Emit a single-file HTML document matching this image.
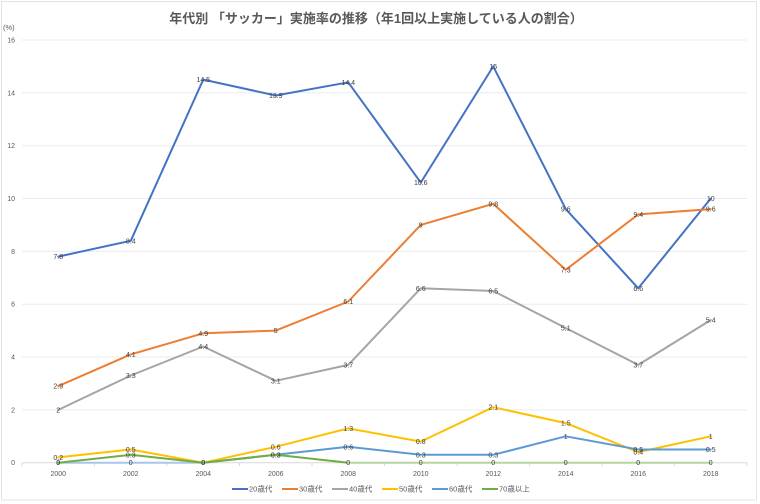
<!DOCTYPE html>
<html><head><meta charset="utf-8">
<style>
html,body{margin:0;padding:0;background:#fff;}
svg{display:block;font-family:"Liberation Sans","Noto Sans CJK JP",sans-serif;}
</style></head>
<body>
<svg width="760" height="504" viewBox="0 0 760 504" xmlns="http://www.w3.org/2000/svg">
<rect x="0" y="0" width="760" height="504" fill="#fff"/>
<rect x="1.5" y="1.5" width="755" height="498.5" fill="#fff" stroke="#E3E3E3" stroke-width="1"/>
<text x="376" y="23" text-anchor="middle" font-size="13" font-weight="bold" fill="#595959">年代別 「サッカー」実施率の推移（年1回以上実施している人の割合）</text>
<text x="3" y="30" font-size="7.5" fill="#595959">(%)</text>
<!-- gridlines -->
<g stroke="#EBEBF0" stroke-width="1">
<line x1="22" x2="747" y1="40" y2="40"/>
<line x1="22" x2="747" y1="92.8" y2="92.8"/>
<line x1="22" x2="747" y1="145.7" y2="145.7"/>
<line x1="22" x2="747" y1="198.5" y2="198.5"/>
<line x1="22" x2="747" y1="251.4" y2="251.4"/>
<line x1="22" x2="747" y1="304.2" y2="304.2"/>
<line x1="22" x2="747" y1="357" y2="357"/>
<line x1="22" x2="747" y1="409.9" y2="409.9"/>
</g>
<g stroke="#D9D9D9" stroke-width="1">
<line x1="22" x2="747" y1="462.7" y2="462.7"/>
<line x1="22" x2="22" y1="462.7" y2="466"/>
<line x1="94.5" x2="94.5" y1="462.7" y2="466"/>
<line x1="167" x2="167" y1="462.7" y2="466"/>
<line x1="239.5" x2="239.5" y1="462.7" y2="466"/>
<line x1="312" x2="312" y1="462.7" y2="466"/>
<line x1="384.5" x2="384.5" y1="462.7" y2="466"/>
<line x1="457" x2="457" y1="462.7" y2="466"/>
<line x1="529.5" x2="529.5" y1="462.7" y2="466"/>
<line x1="602" x2="602" y1="462.7" y2="466"/>
<line x1="674.5" x2="674.5" y1="462.7" y2="466"/>
<line x1="747" x2="747" y1="462.7" y2="466"/>
</g>
<!-- y labels -->
<g font-size="7" fill="#595959" text-anchor="end">
<text x="15" y="42.5">16</text>
<text x="15" y="95.3">14</text>
<text x="15" y="148.2">12</text>
<text x="15" y="201">10</text>
<text x="15" y="253.9">8</text>
<text x="15" y="306.7">6</text>
<text x="15" y="359.5">4</text>
<text x="15" y="412.4">2</text>
<text x="15" y="465.2">0</text>
</g>
<!-- x labels -->
<g font-size="7" fill="#595959" text-anchor="middle">
<text x="58.25" y="476">2000</text>
<text x="130.75" y="476">2002</text>
<text x="203.25" y="476">2004</text>
<text x="275.75" y="476">2006</text>
<text x="348.25" y="476">2008</text>
<text x="420.75" y="476">2010</text>
<text x="493.25" y="476">2012</text>
<text x="565.75" y="476">2014</text>
<text x="638.25" y="476">2016</text>
<text x="710.75" y="476">2018</text>
</g>
<!-- series -->
<g fill="none" stroke-width="2" stroke-linejoin="round" stroke-linecap="round">
<polyline stroke="#4472C4" points="58.25,256.6 130.75,240.8 203.25,79.6 275.75,95.5 348.25,82.3 420.75,182.6 493.25,66.4 565.75,209.1 638.25,288.3 710.75,198.5"/>
<polyline stroke="#ED7D31" points="58.25,386.1 130.75,354.4 203.25,333.3 275.75,330.6 348.25,301.5 420.75,224.9 493.25,203.8 565.75,269.8 638.25,214.4 710.75,209.1"/>
<polyline stroke="#A5A5A5" points="58.25,409.9 130.75,375.5 203.25,346.5 275.75,380.8 348.25,364.9 420.75,288.3 493.25,291 565.75,328 638.25,364.9 710.75,320"/>
<polyline stroke="#FFC000" points="58.25,457.4 130.75,449.5 203.25,462.7 275.75,446.8 348.25,428.4 420.75,441.6 493.25,407.2 565.75,423.1 638.25,452.1 710.75,436.3"/>
<polyline stroke="#A9C6EA" points="58.25,462.7 130.75,462.7 203.25,462.7"/>
<polyline stroke="#5B9BD5" points="203.25,462.7 275.75,454.8 348.25,446.8 420.75,454.8 493.25,454.8 565.75,436.3 638.25,449.5 710.75,449.5"/>
<polyline stroke="#70AD47" points="58.25,462.7 130.75,454.8 203.25,462.7 275.75,454.8 348.25,462.7"/>
<polyline stroke="#B5D6A0" points="348.25,462.7 420.75,462.7 493.25,462.7 565.75,462.7 638.25,462.7 710.75,462.7"/>
</g>
<!-- data labels -->
<g font-size="7" fill="#404040" text-anchor="middle">
<text x="58.25" y="259.1">7.8</text>
<text x="130.75" y="243.3">8.4</text>
<text x="203.25" y="82.1">14.5</text>
<text x="275.75" y="98">13.9</text>
<text x="348.25" y="84.8">14.4</text>
<text x="420.75" y="185.1">10.6</text>
<text x="493.25" y="68.9">15</text>
<text x="565.75" y="211.6">9.6</text>
<text x="638.25" y="290.8">6.6</text>
<text x="710.75" y="201">10</text>

<text x="58.25" y="388.6">2.9</text>
<text x="130.75" y="356.9">4.1</text>
<text x="203.25" y="335.8">4.9</text>
<text x="275.75" y="333.1">5</text>
<text x="348.25" y="304">6.1</text>
<text x="420.75" y="227.4">9</text>
<text x="493.25" y="206.3">9.8</text>
<text x="565.75" y="272.3">7.3</text>
<text x="638.25" y="216.9">9.4</text>
<text x="710.75" y="211.6">9.6</text>

<text x="58.25" y="412.4">2</text>
<text x="130.75" y="378">3.3</text>
<text x="203.25" y="349">4.4</text>
<text x="275.75" y="383.3">3.1</text>
<text x="348.25" y="367.4">3.7</text>
<text x="420.75" y="290.8">6.6</text>
<text x="493.25" y="293.5">6.5</text>
<text x="565.75" y="330.5">5.1</text>
<text x="638.25" y="367.4">3.7</text>
<text x="710.75" y="322.5">5.4</text>

<text x="58.25" y="459.9">0.2</text>
<text x="130.75" y="452">0.5</text>
<text x="203.25" y="465.2">0</text>
<text x="275.75" y="449.3">0.6</text>
<text x="348.25" y="430.9">1.3</text>
<text x="420.75" y="444.1">0.8</text>
<text x="493.25" y="409.7">2.1</text>
<text x="565.75" y="425.6">1.5</text>
<text x="638.25" y="454.6">0.4</text>
<text x="710.75" y="438.8">1</text>

<text x="58.25" y="465.2">0</text>
<text x="130.75" y="465.2">0</text>
<text x="203.25" y="465.2">0</text>
<text x="275.75" y="457.3">0.3</text>
<text x="348.25" y="449.3">0.6</text>
<text x="420.75" y="457.3">0.3</text>
<text x="493.25" y="457.3">0.3</text>
<text x="565.75" y="438.8">1</text>
<text x="638.25" y="452">0.5</text>
<text x="710.75" y="452">0.5</text>

<text x="58.25" y="465.2">0</text>
<text x="130.75" y="457.3">0.3</text>
<text x="203.25" y="465.2">0</text>
<text x="275.75" y="457.3">0.3</text>
<text x="348.25" y="465.2">0</text>
<text x="420.75" y="465.2">0</text>
<text x="493.25" y="465.2">0</text>
<text x="565.75" y="465.2">0</text>
<text x="638.25" y="465.2">0</text>
<text x="710.75" y="465.2">0</text>
</g>
<!-- legend -->
<g stroke-width="2">
<line x1="232" x2="248" y1="489" y2="489" stroke="#4472C4"/>
<line x1="282" x2="298" y1="489" y2="489" stroke="#ED7D31"/>
<line x1="332" x2="348" y1="489" y2="489" stroke="#A5A5A5"/>
<line x1="382" x2="398" y1="489" y2="489" stroke="#FFC000"/>
<line x1="432" x2="448" y1="489" y2="489" stroke="#5B9BD5"/>
<line x1="482" x2="498" y1="489" y2="489" stroke="#70AD47"/>
</g>
<g font-size="7.5" fill="#595959">
<text x="249" y="491.7">20歳代</text>
<text x="299" y="491.7">30歳代</text>
<text x="349" y="491.7">40歳代</text>
<text x="399" y="491.7">50歳代</text>
<text x="449" y="491.7">60歳代</text>
<text x="499" y="491.7">70歳以上</text>
</g>
</svg>
</body></html>
